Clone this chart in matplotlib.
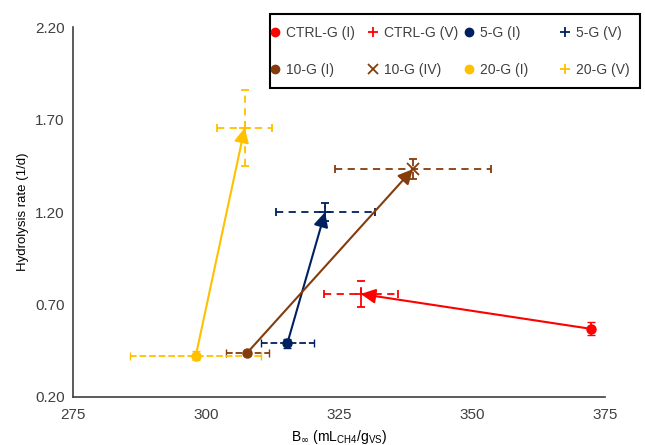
import numpy as np
import matplotlib
matplotlib.use('Agg')
import matplotlib.pyplot as plt
from matplotlib.lines import Line2D
from matplotlib.patches import Rectangle

plt.rcParams['font.family'] = ['Liberation Sans', 'DejaVu Sans']

# data: (I) start points and (V)/(IV) end points
series = ['CTRL-G', '5-G', '10-G', '20-G']
end_tags = ['(V)', '(V)', '(IV)', '(V)']
colors = ['#FF0000', '#002060', '#843C0C', '#FFC000']

b_start = [372.4, 315.3, 307.8, 298.1]
k_start = [0.568, 0.490, 0.440, 0.423]
b_start_err = [0.0, 5.0, 4.0, 12.3]
k_start_err = [0.035, 0.025, 0.01, 0.025]

b_end = [329.1, 322.4, 338.9, 307.3]
k_end = [0.757, 1.200, 1.432, 1.656]
b_end_err = [7.0, 9.3, 14.6, 5.2]
k_end_err = [0.07, 0.05, 0.055, 0.205]

end_markers = ['+', '+', 'x', '+']

fig = plt.figure(figsize=(6.45, 4.45), dpi=100)
ax = fig.add_axes([0.113, 0.108, 0.825, 0.831])

for i in range(len(series)):
    c = colors[i]
    eb = ax.errorbar(b_start[i], k_start[i], xerr=b_start_err[i] if b_start_err[i] > 0 else None,
                     yerr=k_start_err[i], fmt='o', color=c, ms=6.5, capsize=3, elinewidth=1.3, zorder=3)
    for col in eb[2]:
        col.set_linestyle('--')
    eb = ax.errorbar(b_end[i], k_end[i], xerr=b_end_err[i], yerr=k_end_err[i],
                     fmt=end_markers[i], color=c, ms=9, mew=1.3, capsize=3, elinewidth=1.3, zorder=3)
    for col in eb[2]:
        col.set_linestyle((0, (4, 3)))
    ax.annotate('', xy=(b_end[i], k_end[i]), xytext=(b_start[i], k_start[i]),
                arrowprops=dict(arrowstyle='-|>', color=c, lw=1.5, mutation_scale=22,
                                shrinkA=0, shrinkB=0), zorder=4)

ax.set_xlim(275, 375)
ax.set_ylim(0.20, 2.20)
ax.set_xticks([275, 300, 325, 350, 375])
ax.set_yticks([0.20, 0.70, 1.20, 1.70, 2.20])
ax.yaxis.set_major_formatter(matplotlib.ticker.FormatStrFormatter('%.2f'))
ax.tick_params(length=0, labelsize=11, colors='#404040', pad=6)
ax.tick_params(axis='x', pad=8)
for s in ['top', 'right']:
    ax.spines[s].set_visible(False)
for s in ['left', 'bottom']:
    ax.spines[s].set_color('#404040')
    ax.spines[s].set_linewidth(1.2)

ax.set_ylabel('Hydrolysis rate (1/d)', fontsize=9.5, labelpad=4)
ax.set_xlabel(r'B$_{\infty}$ (mL$_{\mathregular{CH4}}$/g$_{\mathregular{VS}}$)', fontsize=10, labelpad=4)

# legend: frame plus one small legend per column (equal column widths)
W, H = 645.0, 445.0
fig.patches.append(Rectangle((270 / W, 1 - 88 / H), 370 / W, 74 / H, transform=fig.transFigure,
                             fill=False, edgecolor='black', lw=1.5, zorder=5))
col_x = [275, 373, 469, 565]
for col in range(4):
    # column 0: CTRL-G (I), 10-G (I); column 1: CTRL-G (V), 10-G (IV); ...
    idx = [col // 2, col // 2 + 2]
    is_end = col % 2 == 1
    hs, ls = [], []
    for k in idx:
        if is_end:
            hs.append(Line2D([], [], marker=end_markers[k], color=colors[k], ls='none', ms=7, mew=1.3))
            ls.append(series[k] + ' ' + end_tags[k])
        else:
            hs.append(Line2D([], [], marker='o', color=colors[k], ls='none', ms=6))
            ls.append(series[k] + ' (I)')
    leg = fig.legend(hs, ls, loc='upper left',
                     bbox_to_anchor=((col_x[col] - 4) / W, 1 - 26 / H),
                     fontsize=10, frameon=False, handlelength=0.6, handletextpad=0.45,
                     labelspacing=1.65, borderaxespad=0, borderpad=0)
    for t in leg.get_texts():
        t.set_color('#404040')

fig.savefig('out.png', dpi=100)
